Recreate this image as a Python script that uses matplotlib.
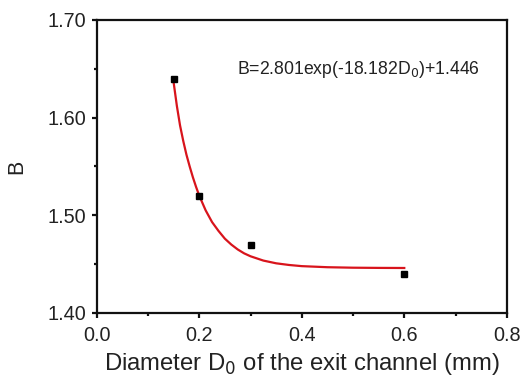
import matplotlib
matplotlib.use("Agg")
import matplotlib.pyplot as plt
from matplotlib.ticker import MultipleLocator

plt.rcParams['font.family'] = ['Liberation Sans', 'DejaVu Sans']

# measured points
d0 = [0.15, 0.20, 0.30, 0.60]
b_vals = [1.64, 1.52, 1.47, 1.44]

# fitted curve, values
fit_x = [0.15, 0.1563, 0.1625, 0.1688, 0.175, 0.1813, 0.1875, 0.1938, 0.20,
         0.2125, 0.225, 0.2375, 0.25, 0.2625, 0.275, 0.2875, 0.30,
         0.325, 0.35, 0.375, 0.40, 0.45, 0.50, 0.55, 0.60]
fit_y = [1.636, 1.612, 1.592, 1.576, 1.562, 1.550, 1.539, 1.529, 1.520,
         1.505, 1.493, 1.484, 1.476, 1.470, 1.465, 1.461, 1.458,
         1.4536, 1.4508, 1.4491, 1.4479, 1.4468, 1.4463, 1.4461, 1.4460]

x_ticks = [0.0, 0.2, 0.4, 0.6, 0.8]
x_labels = ["0.0", "0.2", "0.4", "0.6", "0.8"]
y_ticks = [1.40, 1.50, 1.60, 1.70]
y_labels = ["1.40", "1.50", "1.60", "1.70"]

fig = plt.figure(figsize=(5.23, 3.77), dpi=100)
ax = fig.add_axes([0.185, 0.170, 0.784, 0.777])

ax.plot(fit_x, fit_y, color='#d8141c', lw=1.6, zorder=2)
ax.plot(d0, b_vals, 's', color='black', ms=5, zorder=3)

ax.set_xlim(0.0, 0.8)
ax.set_ylim(1.40, 1.70)
ax.set_xticks(x_ticks)
ax.set_xticklabels(x_labels)
ax.set_yticks(y_ticks)
ax.set_yticklabels(y_labels)
ax.xaxis.set_minor_locator(MultipleLocator(0.1))
ax.yaxis.set_minor_locator(MultipleLocator(0.05))

for s in ax.spines.values():
    s.set_linewidth(1.6)
    s.set_color('#111111')

ax.tick_params(which='both', direction='out', top=False, right=False,
               width=1.6, colors='#111111', labelcolor='#222222')
ax.tick_params(which='major', length=3.5, labelsize=14.3)
ax.tick_params(which='minor', length=2.5)
ax.tick_params(axis='x', which='major', pad=6)
ax.tick_params(axis='y', which='major', pad=4)

ax.set_xlabel("Diameter D$_0$ of the exit channel (mm)", fontsize=17.2, color='#222222', labelpad=4)
ax.set_ylabel("B", fontsize=15.5, color='#222222', labelpad=15)

ax.text(0.273, 1.649, "B=2.801exp(-18.182D$_0$)+1.446", fontsize=12.7,
        color='#222222', va='center', ha='left')

fig.savefig("out.png", dpi=100)
